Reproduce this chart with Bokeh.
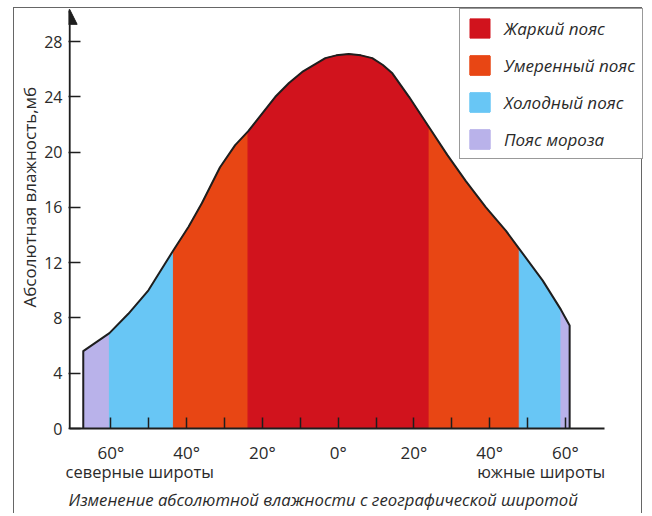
from bokeh.plotting import figure
from bokeh.models import (FixedTicker, Range1d, Legend, LegendItem, LinearAxis,
                          Arrow, NormalHead, Title)
from bokeh.embed import file_html
from bokeh.resources import INLINE

# ---- data ----
lat = [-67.3, -60.4, -55.4, -50.1, -43.5, -39.5, -36.0, -31.2, -27.2, -23.8,
       -16.6, -13.0, -9.5, -3.4, -0.5, 2.8, 6.0, 9.0, 11.8, 14.3, 18.7, 24.0,
       28.8, 33.7, 39.0, 44.3, 47.8, 54.0, 58.8, 61.1]
hum = [5.6, 6.9, 8.3, 10.0, 12.9, 14.6, 16.3, 18.9, 20.5, 21.5,
       24.0, 25.0, 25.8, 26.8, 27.0, 27.1, 27.0, 26.8, 26.3, 25.7, 24.0, 21.8,
       19.8, 17.9, 16.0, 14.3, 13.0, 10.7, 8.6, 7.45]

zone_edges = [-67.3, -60.4, -43.5, -23.8, 24.0, 47.8, 58.8, 61.1]
zone_kind = ["frost", "cold", "temperate", "hot", "temperate", "cold", "frost"]

zone_labels = {"hot": "Жаркий пояс", "temperate": "Умеренный пояс",
               "cold": "Холодный пояс", "frost": "Пояс мороза"}
zone_colors = {"hot": "#d1131d", "temperate": "#e84614",
               "cold": "#68c6f5", "frost": "#b9b2ea"}
legend_order = ["hot", "temperate", "cold", "frost"]

y_ticks = [0, 4, 8, 12, 16, 20, 24, 28]
x_ticks = [-60, -50, -40, -30, -20, -10, 0, 10, 20, 30, 40, 50, 60]
x_tick_labels = ["60°", "", "40°", "", "20°", "", "0°", "", "20°", "", "40°", "", "60°"]

hemisphere_pos = [-52.4, 53.6]
hemisphere_labels = ["северные широты", "южные широты"]

y_title = "Абсолютная влажность,мб"
caption = "Изменение абсолютной влажности с географической широтой"

FONT = "Open Sans"
TXT = "#2a2a2a"
INK = "#1e1e1e"
FRAME_LINE = "1px solid #666"

X_FRAME0, X_FRAME1 = -71.2, 80.6
X_AXIS0, X_AXIS1 = -70.9, 70.4
Y1 = 30.39

p = figure(width=629, height=506, x_range=Range1d(X_FRAME0, X_FRAME1),
           y_range=Range1d(0, Y1),
           output_backend="svg", toolbar_location=None,
           min_border_left=53, min_border_right=0, min_border_top=0,
           min_border_bottom=86)
p.styles = {"margin-left": "13px", "margin-top": "7px",
            "border-left": FRAME_LINE, "border-top": FRAME_LINE,
            "border-right": FRAME_LINE}
p.grid.visible = False
p.outline_line_color = None
p.background_fill_color = "white"
p.border_fill_color = "white"

# zones
renderers = {k: [] for k in legend_order}
for i, kind in enumerate(zone_kind):
    a = lat.index(zone_edges[i])
    b = lat.index(zone_edges[i + 1])
    xs = lat[a:b + 1]
    ys = hum[a:b + 1]
    px = xs + xs[::-1]
    py = ys + [0] * len(xs)
    r = p.patch(px, py, fill_color=zone_colors[kind], line_color=zone_colors[kind],
                line_width=1)
    renderers[kind].append(r)

# outline of the curve
ox = [lat[0]] + lat + [lat[-1]]
oy = [0] + hum + [0]
p.line(ox, oy, line_color=INK, line_width=2, line_join="round")

# x axis
xa = p.xaxis[0]
xa.ticker = FixedTicker(ticks=x_ticks)
xa.major_label_overrides = {t: l for t, l in zip(x_ticks, x_tick_labels)}
xa.bounds = (X_AXIS0, X_AXIS1)
xa.axis_line_color = INK
xa.axis_line_width = 2
xa.major_tick_in = 11
xa.major_tick_out = 0
xa.major_tick_line_color = INK
xa.major_tick_line_width = 1.5
xa.minor_tick_line_color = None
xa.major_label_standoff = 12
xa.major_label_text_font = FONT
xa.major_label_text_font_size = "17px"
xa.major_label_text_color = TXT

# hemisphere names as a second, line-less axis
ha = LinearAxis(ticker=FixedTicker(ticks=hemisphere_pos),
                major_label_overrides={t: l for t, l in zip(hemisphere_pos, hemisphere_labels)},
                axis_line_color=None, major_tick_line_color=None,
                minor_tick_line_color=None, major_tick_in=0, major_tick_out=0,
                major_label_standoff=-7, major_label_text_font=FONT,
                major_label_text_font_size="16.5px", major_label_text_color=TXT)
p.add_layout(ha, "below")

# caption
p.add_layout(Title(text=caption, align="left", text_font=FONT,
                   text_font_size="16.7px", text_font_style="italic",
                   text_color=TXT, standoff=0), "below")

# y axis
ya = p.yaxis[0]
ya.ticker = FixedTicker(ticks=y_ticks)
ya.axis_line_color = None
ya.major_tick_in = 12
ya.major_tick_out = 0
ya.major_tick_line_color = INK
ya.major_tick_line_width = 1.5
ya.minor_tick_line_color = None
ya.major_label_standoff = 6
ya.major_label_text_font = FONT
ya.major_label_text_font_size = "16px"
ya.major_label_text_color = TXT

p.add_layout(Title(text=y_title, align="left", offset=121, text_font=FONT,
                   text_font_size="17px", text_font_style="normal",
                   text_color=TXT, standoff=2), "left")

# y axis line with arrow head
p.add_layout(Arrow(x_start=X_AXIS0, y_start=0, x_end=X_AXIS0, y_end=30.33,
                   line_color=INK, line_width=2,
                   end=NormalHead(size=15, fill_color=INK, line_color=INK)))

# legend
items = [LegendItem(label=zone_labels[k], renderers=renderers[k]) for k in legend_order]
legend = Legend(items=items, location="top_right", orientation="vertical",
                glyph_width=25, glyph_height=24, label_height=24, spacing=13,
                padding=7, margin=0, label_standoff=12,
                label_text_font=FONT, label_text_font_size="17px",
                label_text_font_style="italic", label_text_color=TXT,
                border_line_color="#333", border_line_width=1.2,
                background_fill_color="white", background_fill_alpha=1.0)
p.add_layout(legend)

open("out.html", "w").write(file_html(p, INLINE))
